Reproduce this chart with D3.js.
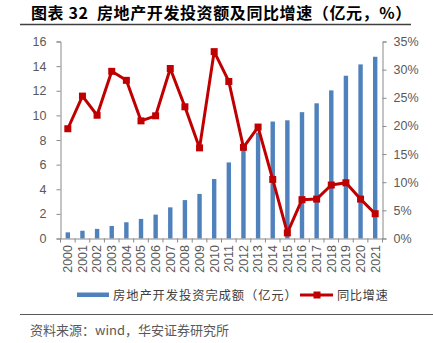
<!DOCTYPE html>
<html><head><meta charset="utf-8">
<script src="https://cdn.jsdelivr.net/npm/d3@7"></script>
<style>body{margin:0;background:#fff}svg{display:block}</style>
</head><body>
<svg id="c" width="433" height="343"></svg>
<script>
const years = ["2000","2001","2002","2003","2004","2005","2006","2007","2008","2009","2010","2011","2012","2013","2014","2015","2016","2017","2018","2019","2020","2021"];
const investment = [0.50,0.63,0.78,1.02,1.32,1.59,1.94,2.53,3.12,3.62,4.83,6.18,7.18,8.60,9.50,9.60,10.26,10.98,12.03,13.22,14.14,14.76];
const growth = [19.5,25.3,21.9,29.7,28.1,20.9,21.8,30.2,23.4,16.1,33.2,27.9,16.2,19.8,10.5,1.0,6.9,7.0,9.5,9.9,7.0,4.4];
const leftTicks = [0,2,4,6,8,10,12,14,16];
const rightTicks = [0,5,10,15,20,25,30,35];
const title = "图表 32  房地产开发投资额及同比增速（亿元，%）";
const legendBar = "房地产开发投资完成额（亿元）";
const legendLine = "同比增速";
const source = "资料来源：wind，华安证券研究所";

const svg = d3.select("#c");
const L = 60.5, R = 382.5, T = 41.5, B = 238.5;
const font = "'Liberation Sans', Arial, sans-serif";
const cjk = "'Noto Sans CJK SC', sans-serif";
const grey = "#595959", axisCol = "#898989";
const blue = "#4f81bd", red = "#c00000";

// title
svg.append("text").attr("x", 31).attr("y", 19).attr("font-family", cjk)
  .attr("font-size", 16).attr("font-weight", "bold").attr("letter-spacing", 0.6)
  .style("white-space", "pre").attr("fill", "#000").text(title);
svg.append("line").attr("x1", 20).attr("x2", 411).attr("y1", 24.5).attr("y2", 24.5)
  .attr("stroke", "#404040").attr("stroke-width", 1.5);

const x = d3.scaleBand().domain(years).range([L, R]);
const yL = d3.scaleLinear().domain([0, 16]).range([B, T]);
const yR = d3.scaleLinear().domain([0, 35]).range([B, T]);

// bars
svg.append("g").selectAll("rect").data(investment).join("rect")
  .attr("x", (d, i) => x(years[i]) + x.bandwidth() / 2 - 2.2)
  .attr("width", 4.4)
  .attr("y", d => yL(d))
  .attr("height", d => B - yL(d))
  .attr("fill", blue);

// left axis
const gL = svg.append("g").attr("transform", `translate(${L},0)`)
  .call(d3.axisLeft(yL).tickValues(leftTicks).tickSize(4).tickPadding(10).tickFormat(d3.format("d")));
// right axis
const gR = svg.append("g").attr("transform", `translate(${R},0)`)
  .call(d3.axisRight(yR).tickValues(rightTicks).tickSize(4).tickPadding(7).tickFormat(d => d + "%"));
// x axis
const gX = svg.append("g").attr("transform", `translate(0,${B})`)
  .call(d3.axisBottom(x).tickSize(0).tickPadding(0));
gX.selectAll(".tick text").attr("transform", "rotate(-90)").attr("text-anchor", "end")
  .attr("x", -6.5).attr("y", 0).attr("dy", "0.35em");
// between-category ticks
const bounds = years.map(y => x(y)).concat([R]);
svg.append("g").selectAll("line").data(bounds).join("line")
  .attr("x1", d => d).attr("x2", d => d).attr("y1", B).attr("y2", B + 4)
  .attr("stroke", axisCol);

[gL, gR, gX].forEach(g => {
  g.selectAll("path,line").attr("stroke", axisCol);
  g.selectAll("text").attr("font-family", font).attr("font-size", 12.5).attr("fill", grey);
});

// line
const line = d3.line().x((d, i) => x(years[i]) + x.bandwidth() / 2).y(d => yR(d));
svg.append("path").datum(growth).attr("d", line).attr("fill", "none")
  .attr("stroke", red).attr("stroke-width", 3).attr("stroke-linejoin", "round");
svg.append("g").selectAll("rect").data(growth).join("rect")
  .attr("x", (d, i) => x(years[i]) + x.bandwidth() / 2 - 3.5)
  .attr("y", d => yR(d) - 3.5).attr("width", 7).attr("height", 7).attr("fill", red);

// legend
svg.append("rect").attr("x", 77).attr("y", 292.5).attr("width", 32).attr("height", 4.5).attr("fill", blue);
svg.append("text").attr("x", 113).attr("y", 299.5).attr("font-family", cjk).attr("font-size", 12.3)
  .attr("letter-spacing", 0.9).attr("fill", "#404040").text(legendBar);
svg.append("line").attr("x1", 300).attr("x2", 333).attr("y1", 295).attr("y2", 295)
  .attr("stroke", red).attr("stroke-width", 3);
svg.append("rect").attr("x", 313.5).attr("y", 291.5).attr("width", 7).attr("height", 7).attr("fill", red);
svg.append("text").attr("x", 337).attr("y", 299.5).attr("font-family", cjk).attr("font-size", 12.3)
  .attr("letter-spacing", 0.5).attr("fill", "#404040").text(legendLine);

// footer
svg.append("line").attr("x1", 20).attr("x2", 433).attr("y1", 314.5).attr("y2", 314.5)
  .attr("stroke", "#595959").attr("stroke-width", 1.2);
svg.append("text").attr("x", 30).attr("y", 334.5).attr("font-family", cjk).attr("font-size", 13)
  .attr("fill", grey).text(source);
</script>
</body></html>
